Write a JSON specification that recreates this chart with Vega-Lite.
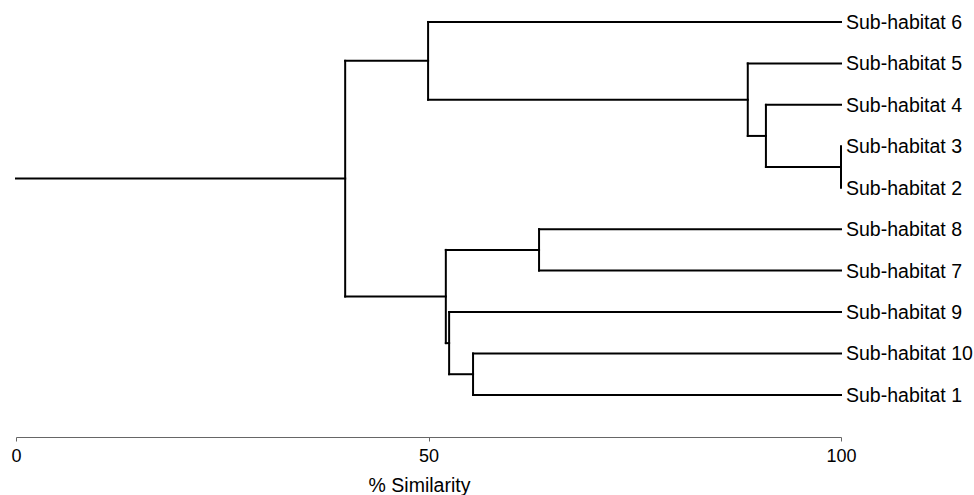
{
  "$schema": "https://vega.github.io/schema/vega-lite/v6.json",
  "autosize": {"type": "none"},
  "padding": {"left": 16, "top": 0, "right": 133, "bottom": 58},
  "width": 825,
  "height": 437,
  "background": "white",
  "config": {"view": {"stroke": null}, "font": "Liberation Sans"},
  "datasets": {
    "segments": [
      {"x": 100, "x2": 49.95, "y": 1, "y2": 1},
      {"x": 100, "x2": 88.7, "y": 2, "y2": 2},
      {"x": 100, "x2": 90.9, "y": 3, "y2": 3},
      {"x": 100, "x2": 90.9, "y": 4.5, "y2": 4.5},
      {"x": 90.9, "x2": 88.7, "y": 3.75, "y2": 3.75},
      {"x": 88.7, "x2": 49.95, "y": 2.875, "y2": 2.875},
      {"x": 49.95, "x2": 39.9, "y": 1.9375, "y2": 1.9375},
      {"x": 100, "x2": 63.4, "y": 6, "y2": 6},
      {"x": 100, "x2": 63.4, "y": 7, "y2": 7},
      {"x": 63.4, "x2": 52.1, "y": 6.5, "y2": 6.5},
      {"x": 100, "x2": 52.5, "y": 8, "y2": 8},
      {"x": 100, "x2": 55.4, "y": 9, "y2": 9},
      {"x": 100, "x2": 55.4, "y": 10, "y2": 10},
      {"x": 55.4, "x2": 52.5, "y": 9.5, "y2": 9.5},
      {"x": 52.5, "x2": 52.1, "y": 8.75, "y2": 8.75},
      {"x": 52.1, "x2": 39.9, "y": 7.625, "y2": 7.625},
      {"x": 39.9, "x2": 0, "y": 4.78, "y2": 4.78},
      {"x": 100, "x2": 100, "y": 4, "y2": 5},
      {"x": 90.9, "x2": 90.9, "y": 3, "y2": 4.5},
      {"x": 88.7, "x2": 88.7, "y": 2, "y2": 3.75},
      {"x": 49.95, "x2": 49.95, "y": 1, "y2": 2.875},
      {"x": 63.4, "x2": 63.4, "y": 6, "y2": 7},
      {"x": 55.4, "x2": 55.4, "y": 9, "y2": 10},
      {"x": 52.5, "x2": 52.5, "y": 8, "y2": 9.5},
      {"x": 52.1, "x2": 52.1, "y": 6.5, "y2": 8.75},
      {"x": 39.9, "x2": 39.9, "y": 1.9375, "y2": 7.625}
    ],
    "leaves": [
      {"label": "Sub-habitat 6", "sim": 100, "rank": 1},
      {"label": "Sub-habitat 5", "sim": 100, "rank": 2},
      {"label": "Sub-habitat 4", "sim": 100, "rank": 3},
      {"label": "Sub-habitat 3", "sim": 100, "rank": 4},
      {"label": "Sub-habitat 2", "sim": 100, "rank": 5},
      {"label": "Sub-habitat 8", "sim": 100, "rank": 6},
      {"label": "Sub-habitat 7", "sim": 100, "rank": 7},
      {"label": "Sub-habitat 9", "sim": 100, "rank": 8},
      {"label": "Sub-habitat 10", "sim": 100, "rank": 9},
      {"label": "Sub-habitat 1", "sim": 100, "rank": 10}
    ]
  },
  "layer": [
    {
      "data": {"name": "segments"},
      "mark": {"type": "rule", "color": "black", "strokeWidth": 2, "strokeCap": "square"},
      "encoding": {
        "x": {
          "field": "x", "type": "quantitative",
          "scale": {"domain": [0, 100], "nice": false, "zero": false},
          "axis": {
            "values": [0, 50, 100],
            "grid": false,
            "title": "% Similarity",
            "titleFont": "Liberation Sans",
            "titleFontSize": 19.5,
            "titleFontWeight": "normal",
            "titleColor": "black",
            "titleAnchor": "start",
            "titleAlign": "center",
            "titleX": 403,
            "titleY": 54,
            "titleBaseline": "alphabetic",
            "labelFont": "Liberation Sans",
            "labelFontSize": 18,
            "labelColor": "black",
            "labelBaseline": "alphabetic",
            "labelPadding": 20,
            "labelFlush": false,
            "tickSize": 4,
            "tickColor": "#666",
            "domainColor": "#666",
            "domainWidth": 1
          }
        },
        "x2": {"field": "x2"},
        "y": {
          "field": "y", "type": "quantitative",
          "scale": {"domain": [0.47, 11.015], "nice": false, "zero": false, "reverse": true},
          "axis": null
        },
        "y2": {"field": "y2"}
      }
    },
    {
      "data": {"name": "leaves"},
      "mark": {"type": "text", "align": "left", "baseline": "middle", "dx": 5, "dy": 1, "font": "Liberation Sans", "fontSize": 19.5, "color": "black"},
      "encoding": {
        "x": {"field": "sim", "type": "quantitative"},
        "y": {"field": "rank", "type": "quantitative"},
        "text": {"field": "label"}
      }
    }
  ]
}
